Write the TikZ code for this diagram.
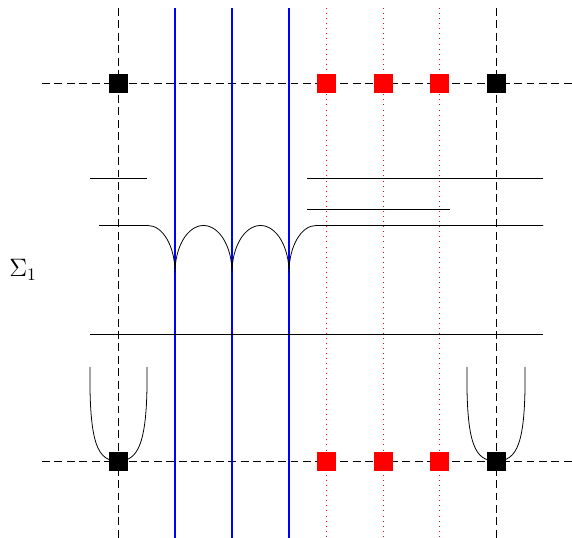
\documentclass[tikz,border=0pt]{standalone}
\begin{document}
\begin{tikzpicture}[x=0.5714pt,y=-0.5714pt,
  blk/.style={dash pattern=on 4.5pt off 2.6pt, line width=0.4pt},
  rdot/.style={red, dash pattern=on 0.5pt off 2.4pt, line width=0.5pt},
  bl/.style={draw=blue, line width=0.6pt},
  bsq/.style={fill=black, draw=none, minimum size=10.9pt, inner sep=0pt},
  rsq/.style={fill=red, draw=none, minimum size=10.9pt, inner sep=0pt},
  ln/.style={line width=0.45pt}]
\useasboundingbox (0,0) rectangle (572,538);
% vertical dashed
\coordinate (vat) at (118,8); \coordinate (vab) at (118,538);
\coordinate (vbt) at (496,8); \coordinate (vbb) at (496,538);
\draw[blk] (vat) -- (vab);
\draw[blk] (vbt) -- (vbb);
% horizontal dashed
\coordinate (hal) at (42,83); \coordinate (har) at (572,83);
\coordinate (hbl) at (42,461); \coordinate (hbr) at (572,461);
\draw[blk] (hal) -- (har);
\draw[blk] (hbl) -- (hbr);
% blue lines
\coordinate (b1t) at (175,8); \coordinate (b1b) at (175,538);
\coordinate (b2t) at (232,8); \coordinate (b2b) at (232,538);
\coordinate (b3t) at (289,8); \coordinate (b3b) at (289,538);
\draw[bl] (b1t) -- (b1b);
\draw[bl] (b2t) -- (b2b);
\draw[bl] (b3t) -- (b3b);
% red dotted
\coordinate (r1t) at (326,8); \coordinate (r1b) at (326,538);
\coordinate (r2t) at (383,8); \coordinate (r2b) at (383,538);
\coordinate (r3t) at (439,8); \coordinate (r3b) at (439,538);
\draw[rdot] (r1t) -- (r1b);
\draw[rdot] (r2t) -- (r2b);
\draw[rdot] (r3t) -- (r3b);
% horizontal solid lines
\coordinate (l1a) at (90,178); \coordinate (l1b) at (147,178);
\coordinate (l2a) at (307,178); \coordinate (l2b) at (543,178);
\coordinate (l3a) at (307,209); \coordinate (l3b) at (450,209);
\coordinate (l4a) at (90,334); \coordinate (l4b) at (543,334);
\draw[ln] (l1a) -- (l1b);
\draw[ln] (l2a) -- (l2b);
\draw[ln] (l3a) -- (l3b);
\draw[ln] (l4a) -- (l4b);
% cusped curve
\coordinate (cs) at (99,225.5);
\coordinate (ce) at (543,225.5);
\draw[ln] (cs) -- (148,225.5)
  arc[start angle=-90, end angle=0, x radius=27, y radius=47]
  arc[start angle=180, end angle=360, x radius=28.5, y radius=47]
  arc[start angle=180, end angle=360, x radius=28.5, y radius=47]
  arc[start angle=180, end angle=270, x radius=27, y radius=47]
  -- (ce);
% U shapes
\coordinate (ua1) at (90,367); \coordinate (ua2) at (147,367); \coordinate (uab) at (118,461);
\coordinate (ub1) at (467,367); \coordinate (ub2) at (525,367); \coordinate (ubb) at (496,461);
\draw[ln] (ua1) .. controls (89,445) and (98,461) .. (uab) .. controls (138,461) and (148,445) .. (ua2);
\draw[ln] (ub1) .. controls (466,445) and (475,461) .. (ubb) .. controls (517,461) and (526,445) .. (ub2);
% squares
\node[bsq] (sq1) at (118.5,83.5) {};
\node[bsq] (sq2) at (496.5,83.5) {};
\node[bsq] (sq3) at (118.5,461.5) {};
\node[bsq] (sq4) at (496.5,461.5) {};
\node[rsq] (rta) at (326.5,83.5) {};
\node[rsq] (rtb) at (383.5,83.5) {};
\node[rsq] (rtc) at (439.5,83.5) {};
\node[rsq] (rba) at (326.5,461.5) {};
\node[rsq] (rbb) at (383.5,461.5) {};
\node[rsq] (rbc) at (439.5,461.5) {};
\node[font=\Large] (sig) at (23,270) {$\Sigma_1$};
\end{tikzpicture}
\end{document}
